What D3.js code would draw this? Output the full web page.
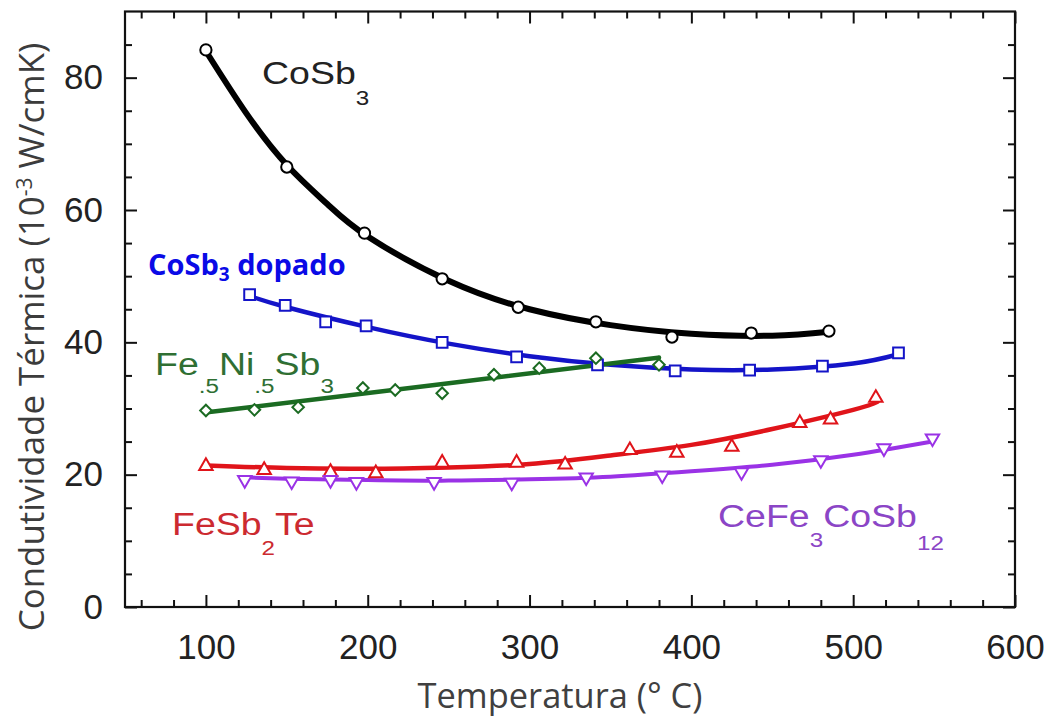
<!DOCTYPE html>
<meta charset="utf-8">
<style>
  body { margin: 0; background: #fff; }
  svg text { font-family: "Liberation Sans", Arial, sans-serif; }
</style>
<svg id="chart" width="1051" height="720"></svg>
<script src="https://d3js.org/d3.v7.min.js"></script>
<script>
// ---- data (T in °C, k in 10^-3 W/cmK) ----
var cosb3T = [100, 150, 198, 246, 293, 341, 388, 437, 485];
var cosb3K = [84.2, 66.5, 56.5, 49.6, 45.3, 43.1, 40.8, 41.4, 41.7];
var cosb3FitT = [100, 125, 150, 175, 200, 250, 300, 350, 400, 450, 485];
var cosb3FitK = [84.0, 74.6, 66.8, 60.9, 56.0, 49.3, 45.0, 42.6, 41.3, 41.0, 41.6];

var dopadoT = [127, 149, 174, 199, 246, 292, 342, 390, 436, 481, 528];
var dopadoK = [47.2, 45.6, 43.1, 42.5, 40.0, 37.8, 36.6, 35.7, 35.8, 36.4, 38.4];
var dopadoFitT = [127, 150, 200, 250, 300, 350, 400, 450, 500, 528];
var dopadoFitK = [47.0, 45.3, 42.3, 39.8, 37.9, 36.6, 35.9, 35.9, 36.8, 38.2];

var feniT = [100, 130, 157, 197, 217, 246, 278, 306, 341, 380];
var feniK = [29.7, 29.8, 30.2, 33.1, 32.8, 32.3, 35.1, 36.1, 37.6, 36.6];
var feniFitT = [100, 240, 380];
var feniFitK = [29.4, 33.5, 37.7];

var fesbT = [100, 136, 177, 205, 246, 292, 322, 362, 391, 425, 467, 486, 514];
var fesbK = [21.3, 20.7, 20.4, 20.2, 21.8, 21.8, 21.5, 23.7, 23.3, 24.2, 27.8, 28.3, 31.6];
var fesbFitT = [100, 150, 200, 250, 300, 350, 400, 450, 500, 515];
var fesbFitK = [21.4, 21.0, 20.9, 21.1, 21.6, 22.9, 24.5, 26.9, 29.8, 31.0];

var cefeT = [124, 153, 177, 193, 241, 289, 335, 382, 431, 480, 519, 549];
var cefeK = [19.2, 19.0, 19.2, 18.9, 18.9, 18.8, 19.6, 19.9, 20.4, 22.2, 24.0, 25.5];
var cefeFitT = [124, 150, 200, 250, 300, 350, 400, 450, 500, 549];
var cefeFitK = [19.6, 19.4, 19.2, 19.1, 19.3, 19.7, 20.5, 21.5, 23.0, 25.0];

var xMajor = [100, 200, 300, 400, 500, 600];
var yMajor = [0, 20, 40, 60, 80];

var svg = d3.select("#chart");
var margin = {left: 125, top: 11.5, right: 36, bottom: 113};
var width = 1051 - margin.left - margin.right,
    height = 720 - margin.top - margin.bottom;

var x = d3.scaleLinear().domain([50, 600]).range([0, width]);
var y = d3.scaleLinear().domain([0, 90]).range([height, 0]);

var g = svg.append("g").attr("transform", "translate(" + margin.left + "," + margin.top + ")");

// ---- axes (ticks inside, mirrored on top/right) ----
var xMinor = d3.range(60, 600, 20).filter(function(v) { return v % 100 !== 0; });
var yMinor = d3.range(5, 90, 5).filter(function(v) { return v % 20 !== 0; });

function styleAxis(sel) {
  sel.select(".domain").remove();
  sel.selectAll("line").attr("stroke", "#111").attr("stroke-width", 2);
  sel.selectAll("text").attr("fill", "#222").style("font-size", "35px");
}

g.append("g").attr("transform", "translate(0," + height + ")")
  .call(d3.axisBottom(x).tickValues(xMinor).tickSize(-7).tickFormat(""))
  .call(styleAxis);
g.append("g").attr("transform", "translate(0," + height + ")")
  .call(d3.axisBottom(x).tickValues(xMajor).tickSize(-12).tickPadding(27).tickFormat(d3.format("d")))
  .call(styleAxis);
g.append("g")
  .call(d3.axisTop(x).tickValues(xMinor).tickSize(-7).tickFormat(""))
  .call(styleAxis);
g.append("g")
  .call(d3.axisTop(x).tickValues(xMajor).tickSize(-12).tickFormat(""))
  .call(styleAxis);

g.append("g")
  .call(d3.axisLeft(y).tickValues(yMinor).tickSize(-7).tickFormat(""))
  .call(styleAxis);
g.append("g")
  .call(d3.axisLeft(y).tickValues(yMajor).tickSize(-12).tickPadding(22).tickFormat(d3.format("d")))
  .call(styleAxis);
g.append("g").attr("transform", "translate(" + width + ",0)")
  .call(d3.axisRight(y).tickValues(yMinor).tickSize(-7).tickFormat(""))
  .call(styleAxis);
g.append("g").attr("transform", "translate(" + width + ",0)")
  .call(d3.axisRight(y).tickValues(yMajor).tickSize(-12).tickFormat(""))
  .call(styleAxis);

g.append("rect")
  .attr("width", width).attr("height", height)
  .attr("fill", "none").attr("stroke", "#111").attr("stroke-width", 2.2);

// ---- series ----
var series = [
  {t: cosb3T, k: cosb3K, ft: cosb3FitT, fk: cosb3FitK, color: "#000000", lw: 6, sym: d3.symbolCircle, size: 100, rot: 0},
  {t: dopadoT, k: dopadoK, ft: dopadoFitT, fk: dopadoFitK, color: "#1414c8", lw: 4.5, sym: d3.symbolSquare, size: 115, rot: 0},
  {t: feniT, k: feniK, ft: feniFitT, fk: feniFitK, color: "#1b6b22", lw: 4.5, sym: d3.symbolSquare, size: 66, rot: 45},
  {t: fesbT, k: fesbK, ft: fesbFitT, fk: fesbFitK, color: "#e0141a", lw: 4.5, sym: d3.symbolTriangle, size: 78, rot: 0},
  {t: cefeT, k: cefeK, ft: cefeFitT, fk: cefeFitK, color: "#9a32e6", lw: 4, sym: d3.symbolTriangle, size: 78, rot: 180}
];

var line = d3.line()
  .x(function(d) { return x(d[0]); })
  .y(function(d) { return y(d[1]); })
  .curve(d3.curveNatural);

series.forEach(function(s) {
  g.append("path")
    .datum(s.ft.map(function(t, i) { return [t, s.fk[i]]; }))
    .attr("d", line)
    .attr("fill", "none")
    .attr("stroke", s.color)
    .attr("stroke-width", s.lw)
    .attr("stroke-linecap", "round");
});

series.forEach(function(s) {
  g.append("g").selectAll("path")
    .data(s.t.map(function(t, i) { return [t, s.k[i]]; }))
    .enter().append("path")
    .attr("d", d3.symbol().type(s.sym).size(s.size))
    .attr("transform", function(d) {
      return "translate(" + x(d[0]) + "," + y(d[1]) + ") rotate(" + s.rot + ")";
    })
    .attr("fill", "#fff")
    .attr("stroke", s.color)
    .attr("stroke-width", 2);
});

// ---- in-plot labels ----
function label(px, py, color, parts) {
  var t = svg.append("text")
    .attr("transform", "translate(" + px + "," + py + ") scale(1.21,1)")
    .attr("fill", color)
    .style("font-size", "31px");
  var prev = 0;
  parts.forEach(function(p) {
    var sp = t.append("tspan").text(p[0]);
    var off = p[1] || 0;
    sp.attr("dy", off - prev);
    if (off) sp.style("font-size", "20px");
    prev = off;
  });
}
label(262, 84, "#222", [["CoSb"], ["3", 21]]);
label(155, 375, "#2f6f33", [["Fe"], [".5", 18], ["Ni"], [".5", 18], ["Sb"], ["3", 18]]);
label(172, 535, "#cc2a30", [["FeSb"], ["2", 20], ["Te"]]);
label(718, 527, "#8b45c6", [["CeFe"], ["3", 20], ["CoSb"], ["12", 23]]);

var dop = svg.append("text")
  .attr("x", 148).attr("y", 275)
  .attr("fill", "#0a0ae6")
  .style("font-family", "'Open Sans', 'Noto Sans', sans-serif")
  .style("font-weight", "bold")
  .style("font-size", "29px");
dop.append("tspan").text("CoSb");
dop.append("tspan").text("3").attr("dy", 6).style("font-size", "19px");
dop.append("tspan").text(" dopado").attr("dy", -6);

// ---- axis titles ----
var xt = svg.append("text")
  .attr("x", 560).attr("y", 708)
  .attr("text-anchor", "middle")
  .attr("fill", "#404040")
  .style("font-family", "'Open Sans', 'Noto Sans', sans-serif")
  .style("font-size", "33px")
  .text("Temperatura (° C)");

var yt = svg.append("text")
  .attr("transform", "translate(44,337) rotate(-90)")
  .attr("text-anchor", "middle")
  .attr("fill", "#3c3c3c")
  .style("font-family", "'Open Sans', 'Noto Sans', sans-serif")
  .style("font-size", "33px");
yt.append("tspan").text("Condutividade Térmica (10");
yt.append("tspan").text("-3").attr("dy", -12).style("font-size", "21px");
yt.append("tspan").text(" W/cmK)").attr("dy", 12);

// fit title widths to the picture
function fitWidth(sel, target, base) {
  var w = sel.node().getBBox().width;
  sel.style("font-size", (base * target / w) + "px");
}
fitWidth(xt, 285, 33);
fitWidth(yt, 590, 33);
</script>
